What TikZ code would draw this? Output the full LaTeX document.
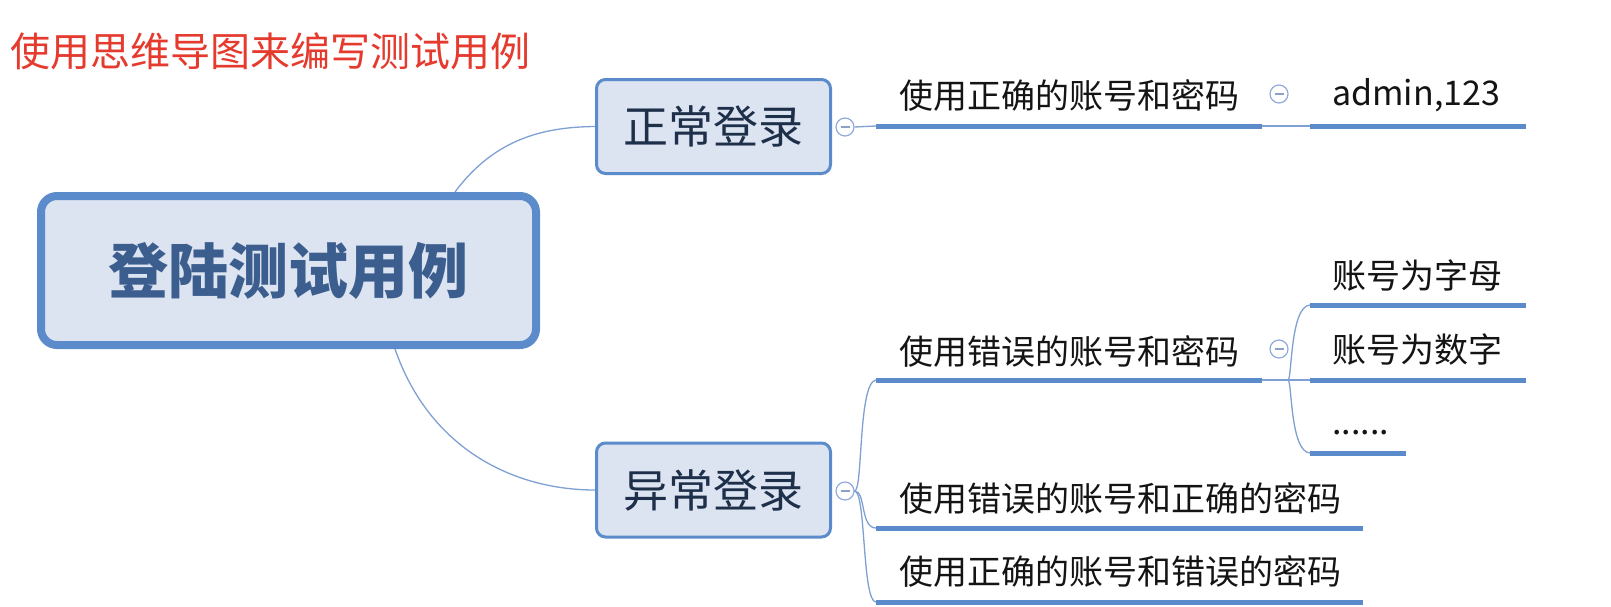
\documentclass[tikz,border=0pt]{standalone}
\usepackage{fontspec}
\setmainfont{Noto Sans CJK SC}
\definecolor{boxfill}{HTML}{DCE4F1}
\definecolor{boxline}{HTML}{5B8BCB}
\definecolor{maintext}{HTML}{3C5E8F}
\definecolor{subtext}{HTML}{1E2F4A}
\definecolor{conn}{HTML}{7FA0D2}
\definecolor{titlered}{HTML}{E53A2E}
\definecolor{leaftext}{HTML}{141414}
\definecolor{circline}{HTML}{8FAADC}
\tikzset{
  mainbox/.style={draw=boxline, line width=8pt, fill=boxfill, rounded corners=16pt,
    minimum width=495pt, minimum height=149pt, inner sep=0pt, text=maintext,
    font=\fontsize{60}{60}\selectfont\bfseries},
  subbox/.style={draw=boxline, line width=3pt, fill=boxfill, rounded corners=9pt,
    minimum width=234pt, minimum height=94pt, inner sep=0pt, text=subtext,
    font=\fontsize{45}{45}\selectfont},
  leaf/.style={inner sep=0pt, text=leaftext, font=\fontsize{34}{34}\selectfont},
  conline/.style={draw=conn, line width=1.3pt},
  uline/.style={draw=boxline, line width=5pt},
  fold/.style={circle, draw=circline, line width=1.2pt, fill=white, minimum size=18pt, inner sep=0pt},
  minus/.style={draw=circline!80!gray, line width=1.2pt}
}
\begin{document}
\begin{tikzpicture}[x=1pt, y=-1pt]
\useasboundingbox (0,0) rectangle (1611,606);
% title
\node[text=titlered, font=\fontsize{40}{40}\selectfont, inner sep=0pt] (title) at (270,51) {使用思维导图来编写测试用例};
% main
\node[mainbox] (main) at (288.5,270.5) {\raisebox{-4pt}{登陆测试用例}};
% second level
\node[subbox] (ok) at (713.5,126.5) {正常登录};
\node[subbox] (bad) at (713.5,490) {异常登录};
% fold circles
\node[fold] (f1) at (845,127) {};
\node[fold] (f2) at (845,491) {};
\node[fold] (f3) at (1279,94) {};
\node[fold] (f4) at (1279,349) {};
\foreach \f in {f1,f2,f3,f4} {\draw[minus] ([xshift=-4.5pt]\f.center) -- ([xshift=4.5pt]\f.center);}
% coordinates for underlines
\coordinate (u1s) at (876,126); \coordinate (u1e) at (1262,126);
\coordinate (a1s) at (1310,126); \coordinate (a1e) at (1526,126);
\coordinate (u2s) at (876,380); \coordinate (u2e) at (1262,380);
\coordinate (b1s) at (1310,305); \coordinate (b1e) at (1526,305);
\coordinate (b2s) at (1310,380); \coordinate (b2e) at (1526,380);
\coordinate (b3s) at (1310,453); \coordinate (b3e) at (1406,453);
\coordinate (u3s) at (876,528); \coordinate (u3e) at (1363,528);
\coordinate (u4s) at (876,602); \coordinate (u4e) at (1363,602);
\coordinate (m1) at (455,192);
\coordinate (m2) at (395,349);
\coordinate (s1) at (1288,380);
% main connectors
\draw[conline] (m1) .. controls (495,138) and (545,127) .. (ok.west);
\draw[conline] (m2) .. controls (430,450) and (515,490) .. (bad.west);
% top branch
\draw[conline] (f1.east) -- (u1s);
\draw[conline] (u1e) -- (a1s);
% bottom brace
\draw[conline] (f2.east) .. controls (863,491) and (858,382) .. (u2s);
\draw[conline] (f2.east) .. controls (866,491) and (860,528) .. (u3s);
\draw[conline] (f2.east) .. controls (866,491) and (862,602) .. (u4s);
% sub brace
\draw[conline] (u2e) -- (b2s);
\draw[conline] (s1) .. controls (1292,380) and (1290,306) .. (b1s);
\draw[conline] (s1) .. controls (1292,380) and (1290,452) .. (b3s);
% underlines
\foreach \s/\e in {u1s/u1e,a1s/a1e,u2s/u2e,b1s/b1e,b2s/b2e,b3s/b3e,u3s/u3e,u4s/u4e} {\draw[uline] (\s) -- (\e);}
% leaf texts
\node[leaf, anchor=west] (t1) at (899,95) {使用正确的账号和密码};
\node[leaf, anchor=base west] (t1a) at (1332,105) {admin,123};
\node[leaf, anchor=west] (t2) at (899,351) {使用错误的账号和密码};
\node[leaf, anchor=west] (t2a) at (1332,276) {账号为字母};
\node[leaf, anchor=west] (t2b) at (1332,350) {账号为数字};
\node[leaf, anchor=base west] (t2c) at (1332,434) {......};
\node[leaf, anchor=west] (t3) at (899,498) {使用错误的账号和正确的密码};
\node[leaf, anchor=west] (t4) at (899,571) {使用正确的账号和错误的密码};
\end{tikzpicture}
\end{document}
